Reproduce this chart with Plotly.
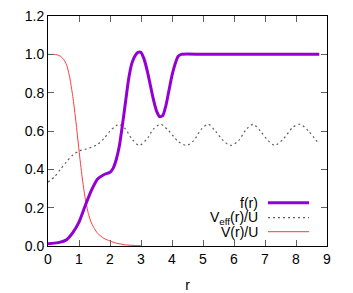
import plotly.graph_objects as go

# ---- data ----
r_f = [0, 0.2, 0.4, 0.6, 0.8, 1.0, 1.2, 1.4, 1.6, 1.8, 2.0, 2.1, 2.2, 2.3, 2.4, 2.5, 2.6,
       2.7, 2.8, 2.9, 3.0, 3.1, 3.2, 3.3, 3.4, 3.5, 3.6, 3.7, 3.8, 3.9, 4.0, 4.1, 4.2, 4.3,
       5.0, 6.0, 7.0, 8.0, 8.75]
f_vals = [0.012, 0.015, 0.02, 0.033, 0.07, 0.125, 0.21, 0.29, 0.35, 0.372, 0.385, 0.405, 0.45,
          0.52, 0.63, 0.75, 0.87, 0.95, 0.99, 1.01, 1.01, 0.975, 0.915, 0.84, 0.765, 0.705,
          0.675, 0.68, 0.73, 0.81, 0.89, 0.95, 0.99, 1.0, 1.0, 1.0, 1.0, 1.0, 1.0]

r_veff = [0, 0.2, 0.4, 0.6, 0.8, 1.0, 1.2, 1.4, 1.6, 1.8, 2.0, 2.2, 2.3, 2.5, 2.7, 2.94,
          3.2, 3.4, 3.64, 3.9, 4.2, 4.47, 4.7, 4.95, 5.17, 5.4, 5.65, 5.9, 6.15, 6.4, 6.62,
          6.85, 7.1, 7.32, 7.6, 7.9, 8.13, 8.4, 8.75]
veff_vals = [0.334, 0.36, 0.40, 0.44, 0.475, 0.495, 0.505, 0.515, 0.53, 0.56, 0.60, 0.628,
             0.635, 0.61, 0.56, 0.525, 0.56, 0.61, 0.635, 0.6, 0.545, 0.525, 0.55, 0.61,
             0.635, 0.6, 0.55, 0.525, 0.55, 0.61, 0.635, 0.6, 0.55, 0.525, 0.56, 0.62,
             0.635, 0.6, 0.53]

r_v = [0, 0.2, 0.3, 0.4, 0.5, 0.6, 0.7, 0.8, 0.9, 1.0, 1.1, 1.2, 1.3, 1.4, 1.5, 1.6, 1.8,
       2.0, 2.2, 2.5, 3.0]
v_vals = [1.0, 0.999, 0.997, 0.99, 0.975, 0.945, 0.88, 0.78, 0.65, 0.5, 0.36, 0.25, 0.17,
          0.12, 0.09, 0.066, 0.04, 0.026, 0.015, 0.006, 0.001]

x_ticks = [0, 1, 2, 3, 4, 5, 6, 7, 8, 9]
y_ticks = [0.0, 0.2, 0.4, 0.6, 0.8, 1.0, 1.2]
legend_names = ["f(r)", "V<sub>eff</sub>(r)/U", "V(r)/U"]

purple = "#9400D3"
gray = "#606060"
red = "#ff3b3b"
dotted = "2px,3px"

fig = go.Figure()
fig.add_trace(go.Scatter(x=r_v, y=v_vals, mode="lines",
                         line=dict(color=red, width=1, shape="spline", smoothing=0.6)))
fig.add_trace(go.Scatter(x=r_veff, y=veff_vals, mode="lines",
                         line=dict(color=gray, width=1.2, dash=dotted, shape="spline", smoothing=0.8)))
fig.add_trace(go.Scatter(x=r_f, y=f_vals, mode="lines",
                         line=dict(color=purple, width=3, shape="spline", smoothing=0.6)))

font = dict(family="Liberation Sans, Arial, sans-serif", size=14, color="black")

W, H = 353, 293
ml, mr, mt, mb = 48, 26, 16, 47
pw, ph = W - ml - mr, H - mt - mb
def px(x):
    return (x - ml) / pw
def py(y):
    return 1 - (y - mt) / ph

legend_rows = [(202.7, dict(color=purple, width=3)),
               (217.7, dict(color=gray, width=1.2, dash=dotted)),
               (231.7, dict(color=red, width=1))]
for name, (yy, ls) in zip(legend_names, legend_rows):
    fig.add_annotation(xref="paper", yref="paper", x=px(259), y=py(yy), text=name,
                       showarrow=False, xanchor="right", yanchor="middle", font=font,
                       borderpad=0)
    fig.add_shape(type="line", xref="paper", yref="paper", x0=px(268), x1=px(309),
                  y0=py(yy), y1=py(yy), line=ls)

axis_common = dict(showline=True, linecolor="black", linewidth=1, mirror="ticks",
                   ticks="inside", ticklen=6, tickcolor="#606060", tickwidth=1,
                   showgrid=False, zeroline=False, tickfont=font, automargin=False,
                   ticklabeloverflow="allow")
fig.update_xaxes(range=[0, 9], tickvals=x_ticks, ticktext=[str(t) for t in x_ticks],
                 title=dict(text="r", font=font, standoff=14), **axis_common)
fig.update_yaxes(range=[0, 1.2], tickvals=y_ticks, ticktext=[f"{t:.1f}" for t in y_ticks],
                 **axis_common)

fig.update_layout(width=W, height=H, margin=dict(l=ml, r=mr, t=mt, b=mb),
                  plot_bgcolor="white", paper_bgcolor="white", showlegend=False,
                  font=font)
fig.write_html("out.html", config={"displayModeBar": False},
               post_script="document.body.style.margin='0';document.body.style.overflow='hidden';")
